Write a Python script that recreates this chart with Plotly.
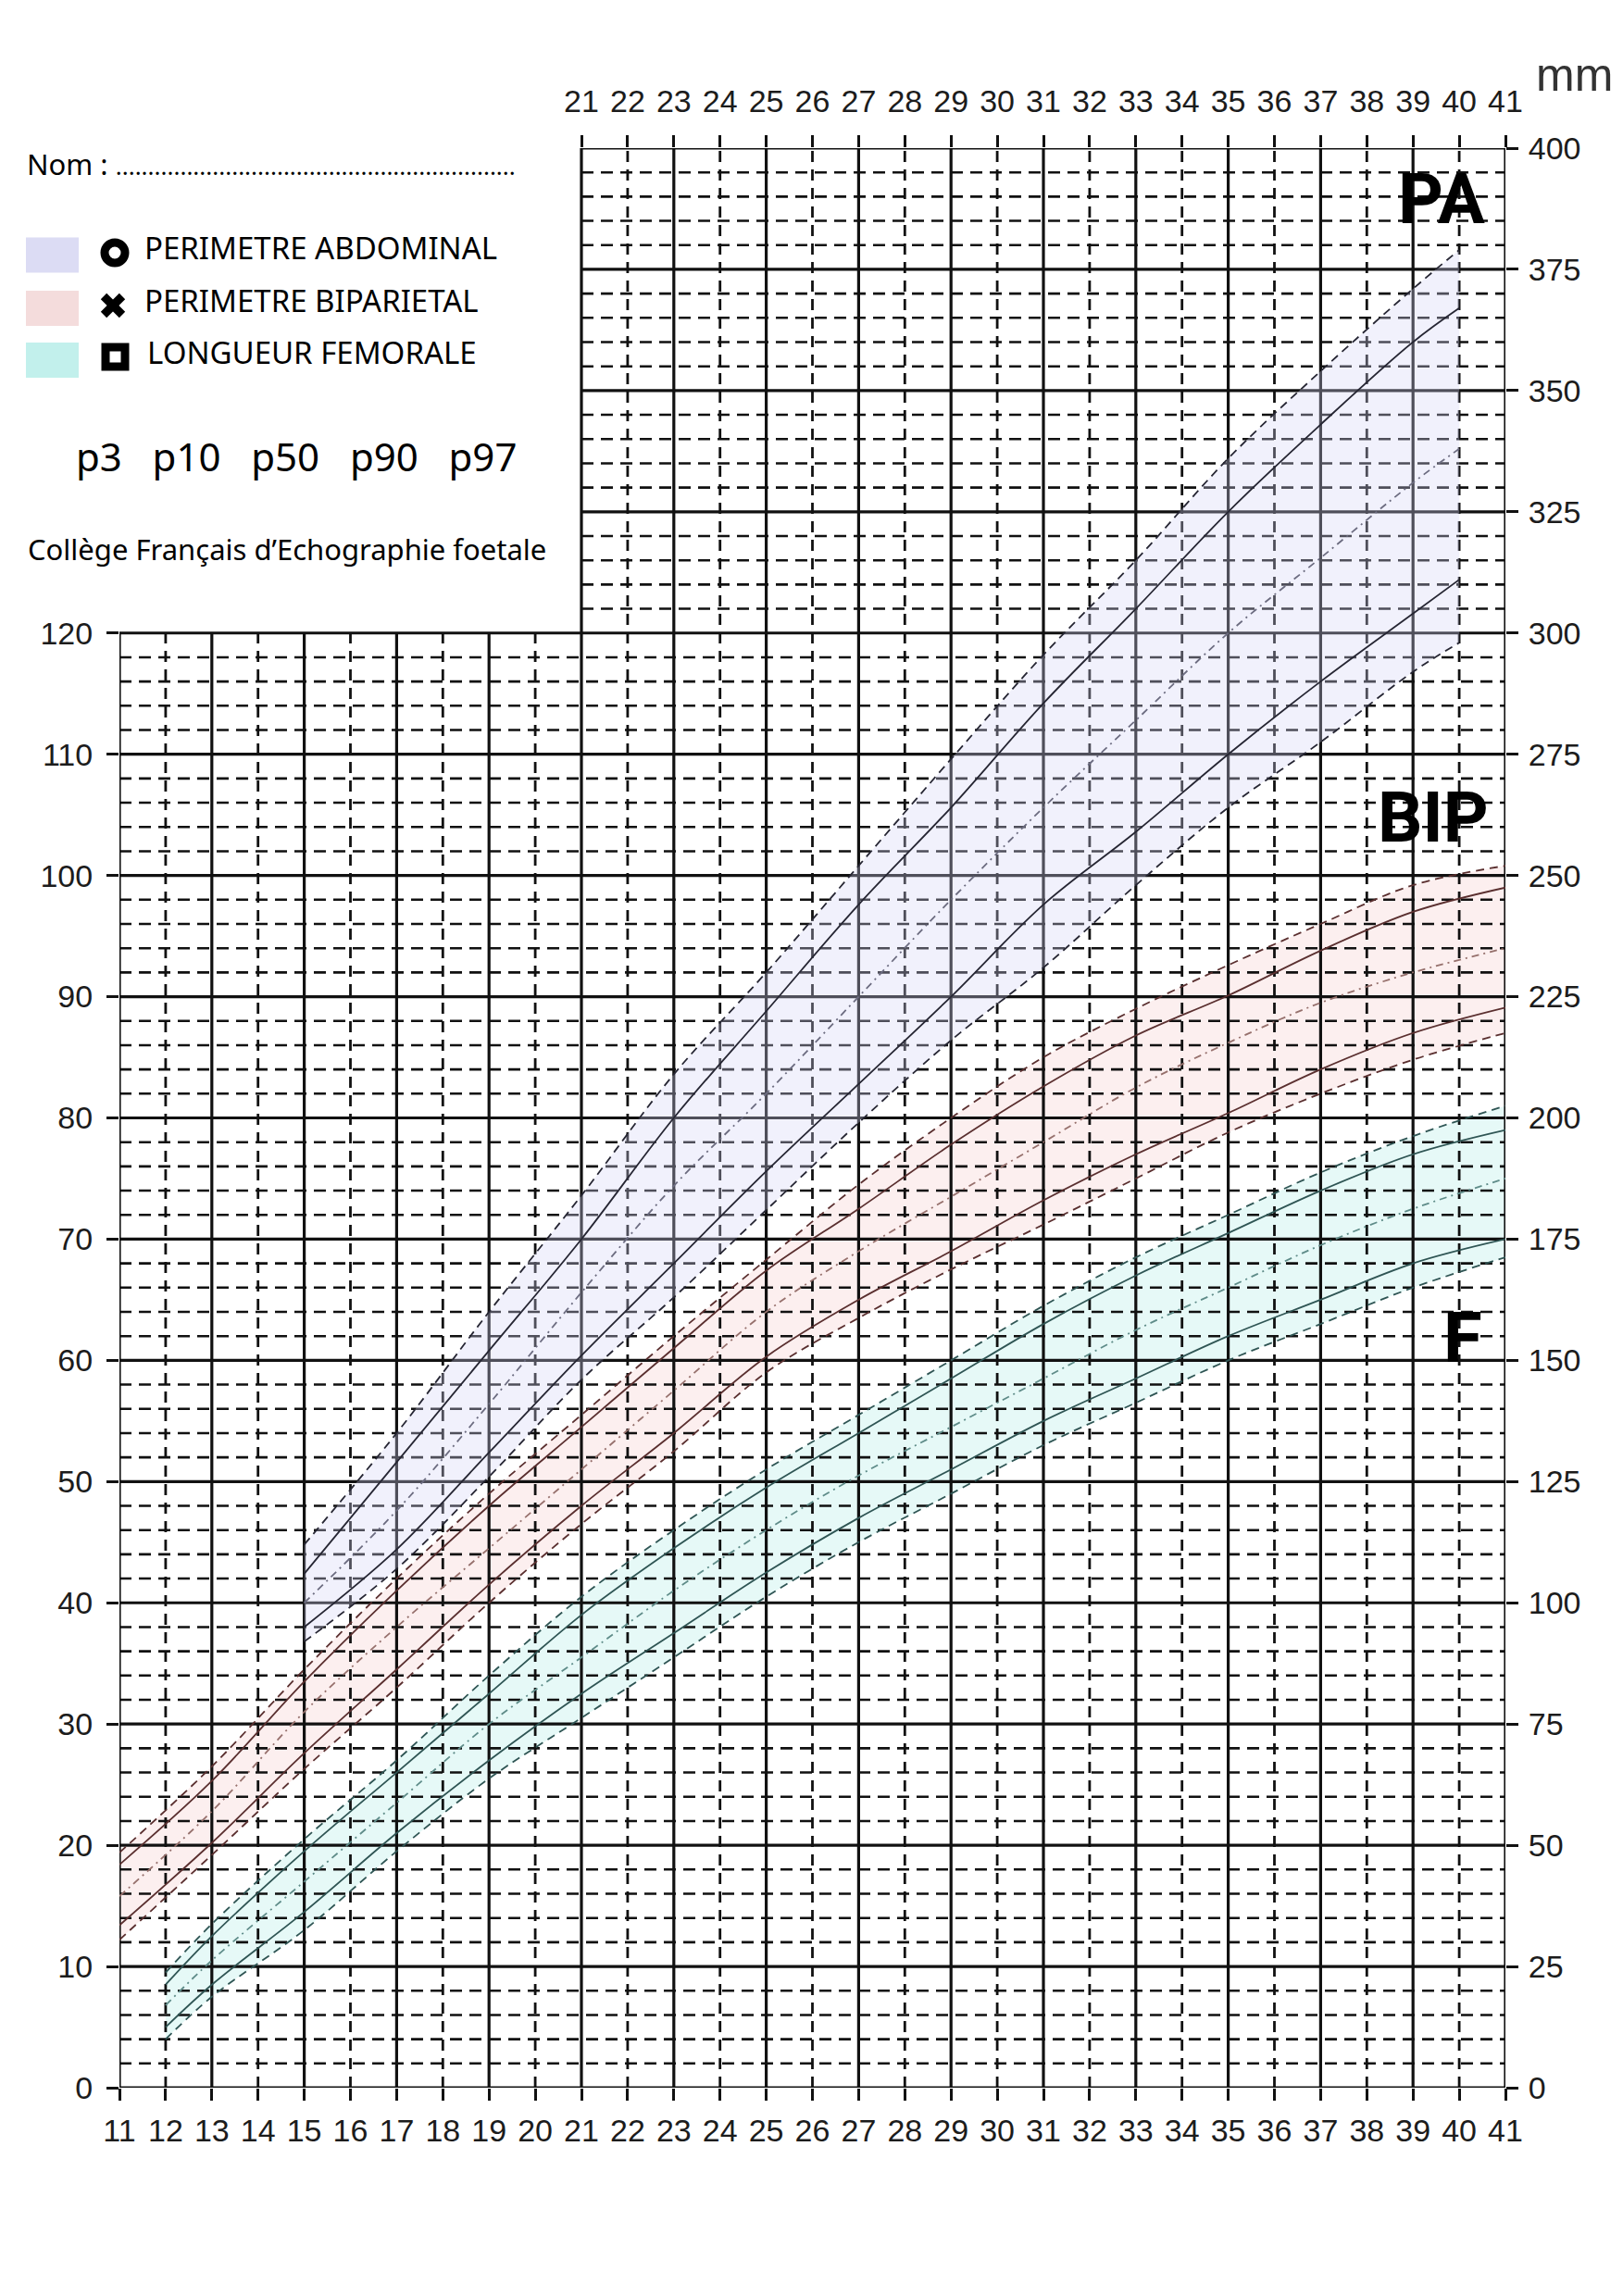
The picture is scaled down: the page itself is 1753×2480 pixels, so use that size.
import plotly.graph_objects as go

# tick labels
bottom_weeks = list(range(11, 42))
top_weeks = list(range(21, 42))
left_mm = list(range(0, 121, 10))
right_mm = list(range(0, 401, 25))

# PERIMETRE ABDOMINAL (right scale, mm)
pa_weeks = [15, 17, 19, 21, 23, 25, 27, 29, 31, 33, 35, 37, 39, 40]
pa_p3 = [92, 107, 126, 146, 163, 181, 199, 216, 231, 248, 264, 277.5, 292, 298]
pa_p10 = [95, 111, 131, 151, 170, 189, 207, 225, 244, 259, 275, 290, 304, 311]
pa_p50 = [100, 119, 141, 164, 186, 205, 225, 245, 264, 282, 300, 315.5, 331, 338]
pa_p90 = [106, 129, 152, 175, 200, 222, 244, 264, 285.5, 305, 325, 343, 360, 367]
pa_p97 = [112, 135, 160, 184, 209, 230, 252, 274, 295.5, 315, 336, 354, 371, 379]

# BIP (left scale, mm)
bip_weeks = [11, 13, 15, 17, 19, 21, 23, 25, 27, 29, 31, 33, 35, 37, 39, 41]
bip_p3 = [12.2, 19.2, 26.3, 33, 40, 46.5, 52.5, 59, 63.5, 67.5, 71.2, 75, 78.8, 82, 84.8, 87]
bip_p10 = [13.4, 20.2, 27.6, 34.5, 41.5, 48, 54, 60.3, 65, 69, 73.2, 77, 80.4, 84, 87, 89.1]
bip_p50 = [15.8, 22.8, 31, 38, 44.5, 51, 57.5, 64, 69, 73.5, 78, 82.5, 86.2, 89.5, 92, 94]
bip_p90 = [18.4, 25.3, 33.5, 41, 48, 54.5, 61, 67.4, 72.5, 77.8, 82.6, 86.8, 90.1, 93.8, 97, 99]
bip_p97 = [19.4, 26.5, 34.5, 42, 49, 55.5, 62, 68.3, 74.5, 80, 85, 89, 92.6, 96, 99.2, 100.8]

# LONGUEUR FEMORALE (left scale, mm)
f_weeks = [12, 13, 15, 17, 19, 21, 23, 25, 27, 29, 31, 33, 35, 37, 39, 41]
f_p3 = [4, 7.5, 13, 19.5, 25.5, 30.5, 35.5, 40.5, 45, 49, 53, 56.5, 60, 63, 66, 68.5]
f_p10 = [5, 8.5, 14.5, 21, 27, 32.5, 37.5, 42.5, 47, 51, 55, 58.5, 62, 65, 68, 70]
f_p50 = [6.8, 10.5, 17, 23.5, 30, 35.5, 41, 46, 50.5, 54.5, 58.5, 62.5, 66, 69.5, 72.5, 75]
f_p90 = [8.5, 12.5, 19.5, 26, 32.5, 39, 44.5, 49.5, 54, 58.5, 63, 67, 70.5, 74, 77, 79]
f_p97 = [9.5, 13.5, 20.5, 27, 34, 40.5, 46, 51, 55.5, 60, 64.5, 68.5, 72, 75.5, 78.5, 81]

# page is drawn with an 8px body margin, so the figure is a bit smaller
W, H = 1737, 2464
L, R, T, B = 121, 1618, 152, 2247


def pp(x, y):
    # figure pixel -> paper coords
    return (x - L) / (R - L), (B - y) / (B - T)


fig = go.Figure()


def band(xs, lo, hi, color, yaxis="y"):
    fig.add_trace(go.Scatter(x=xs, y=lo, mode="lines", line=dict(width=0, shape="spline"),
                             yaxis=yaxis, hoverinfo="skip", showlegend=False))
    fig.add_trace(go.Scatter(x=xs, y=hi, mode="lines", line=dict(width=0, shape="spline"),
                             fill="tonexty", fillcolor=color, yaxis=yaxis,
                             hoverinfo="skip", showlegend=False))


band(f_weeks, f_p3, f_p97, "rgba(190,238,235,0.38)")
band(bip_weeks, bip_p3, bip_p97, "rgba(246,212,212,0.38)")

# grid ------------------------------------------------------------
def segs(lines):
    xs, ys = [], []
    for (x0, y0, x1, y1) in lines:
        xs += [x0, x1, None]
        ys += [y0, y1, None]
    return xs, ys


major_h = [(11, v, 41, v) for v in range(0, 121, 10)] + [(21, v, 41, v) for v in range(130, 161, 10)]
minor_h = [(11, v, 41, v) for v in range(2, 120, 2) if v % 10] + \
          [(21, v, 41, v) for v in range(122, 160, 2) if v % 10]
major_v = [(w, 0, w, 160 if w >= 21 else 120) for w in range(11, 42, 2)]
minor_v = [(w, 0, w, 160 if w >= 22 else 120) for w in range(12, 41, 2)]

for lines, dash, width in [(minor_h, "13px,8px", 2.6), (minor_v, "12px,8px", 2.8),
                           (major_h, "solid", 3.2), (major_v, "solid", 3.2)]:
    gx, gy = segs(lines)
    fig.add_trace(go.Scatter(x=gx, y=gy, mode="lines", line=dict(color="#111111", width=width, dash=dash),
                             hoverinfo="skip", showlegend=False))

# curves ------------------------------------------------------------
def curves(xs, series, dark, light, yaxis="y"):
    styles = [("9px,6px", dark), ("solid", dark), ("8px,5px,2px,5px", light), ("solid", dark), ("9px,6px", dark)]
    for ys, (dash, col) in zip(series, styles):
        fig.add_trace(go.Scatter(x=xs, y=ys, mode="lines", yaxis=yaxis,
                                 line=dict(color=col, width=1.8, dash=dash, shape="spline"),
                                 hoverinfo="skip", showlegend=False))


curves(f_weeks, [f_p3, f_p10, f_p50, f_p90, f_p97], "#2f5554", "#5f8c89")
curves(bip_weeks, [bip_p3, bip_p10, bip_p50, bip_p90, bip_p97], "#5a2f2f", "#96706c")

# PA on right axis
band(pa_weeks, pa_p3, pa_p97, "rgba(212,212,246,0.32)", yaxis="y2")
curves(pa_weeks, [pa_p3, pa_p10, pa_p50, pa_p90, pa_p97], "#262633", "#6c6c80", yaxis="y2")

# dummy trace so the top axis is drawn
fig.add_trace(go.Scatter(x=[11, 41], y=[0, 0], xaxis="x2", mode="lines",
                         line=dict(width=0), hoverinfo="skip", showlegend=False))

tick_font = dict(family="Liberation Sans, Arial", size=34, color="#1c1c1c")
common = dict(showgrid=False, zeroline=False, showline=False, ticks="outside", ticklen=13,
              tickwidth=2.5, tickcolor="#111111", tickfont=tick_font)

fig.update_layout(
    width=W, height=H,
    margin=dict(l=L, r=W - R, t=T, b=H - B, autoexpand=False),
    paper_bgcolor="white", plot_bgcolor="white",
    xaxis=dict(range=[11, 41], tickvals=bottom_weeks, ticklabelstandoff=3, **common),
    xaxis2=dict(range=[11, 41], overlaying="x", side="top", anchor="y", tickvals=top_weeks,
                ticklabelstandoff=11, **common),
    yaxis=dict(range=[0, 160], tickvals=left_mm, ticklabelstandoff=8, **common),
    yaxis2=dict(range=[0, 400], overlaying="y", side="right", anchor="x", tickvals=right_mm,
                ticklabelstandoff=4, **common),
)

# big labels
big = dict(family="Roboto, Liberation Sans", size=76, color="black")
fig.add_annotation(x=39.62, y=389.5, yref="y2", text="<b>PA</b>", showarrow=False, font=big)
fig.add_annotation(x=39.44, y=104.8, text="<b>BIP</b>", showarrow=False, font=big)
fig.add_annotation(x=40.08, y=61.9, text="<b>F</b>", showarrow=False, font=big)

# header texts
txt = "Noto Sans, Open Sans, Liberation Sans"


def note(xp, yp, text, size, family=txt, color="black"):
    x0, y0 = pp(xp, yp)
    fig.add_annotation(x=x0, y=y0, xref="paper", yref="paper", xanchor="left", yanchor="middle",
                       showarrow=False, text=text, font=dict(family=family, size=size, color=color))


note(1649, 73, "mm", 50, family="Liberation Sans, Arial", color="#333333")
note(19, 169, "Nom : <span style='font-size:26px'>" + "." * 62 + "</span>", 31)

legend_rows = [("PERIMETRE ABDOMINAL", "#dcdcf4", 267.5, 149), ("PERIMETRE BIPARIETAL", "#f4dcdc", 325, 149),
               ("LONGUEUR FEMORALE", "#c2f0ec", 381, 152)]
for label, col, yc, xt in legend_rows:
    a, b = pp(20, yc - 19)
    c, d = pp(77, yc + 19)
    fig.add_shape(type="rect", xref="paper", yref="paper", x0=a, y0=b, x1=c, y1=d,
                  fillcolor=col, line=dict(width=0))
    note(xt - 3, yc - 8, label, 33)

# symbols
a, b = pp(105, 254)
c, d = pp(127, 276)
fig.add_shape(type="circle", xref="paper", yref="paper", x0=a, y0=b, x1=c, y1=d,
              line=dict(color="black", width=9))
for (xa, ya, xb, yb) in [(104, 312, 124, 332), (104, 332, 124, 312)]:
    a, b = pp(xa, ya)
    c, d = pp(xb, yb)
    fig.add_shape(type="line", xref="paper", yref="paper", x0=a, y0=b, x1=c, y1=d,
                  line=dict(color="black", width=9))
a, b = pp(106, 367)
c, d = pp(127, 388)
fig.add_shape(type="rect", xref="paper", yref="paper", x0=a, y0=b, x1=c, y1=d,
              line=dict(color="black", width=9))

note(72, 484, "p3&nbsp;&nbsp;&nbsp;p10&nbsp;&nbsp;&nbsp;p50&nbsp;&nbsp;&nbsp;p90&nbsp;&nbsp;&nbsp;p97", 42)
note(20, 585, "Collège Français d’Echographie foetale", 31)

fig.write_html("out.html")
